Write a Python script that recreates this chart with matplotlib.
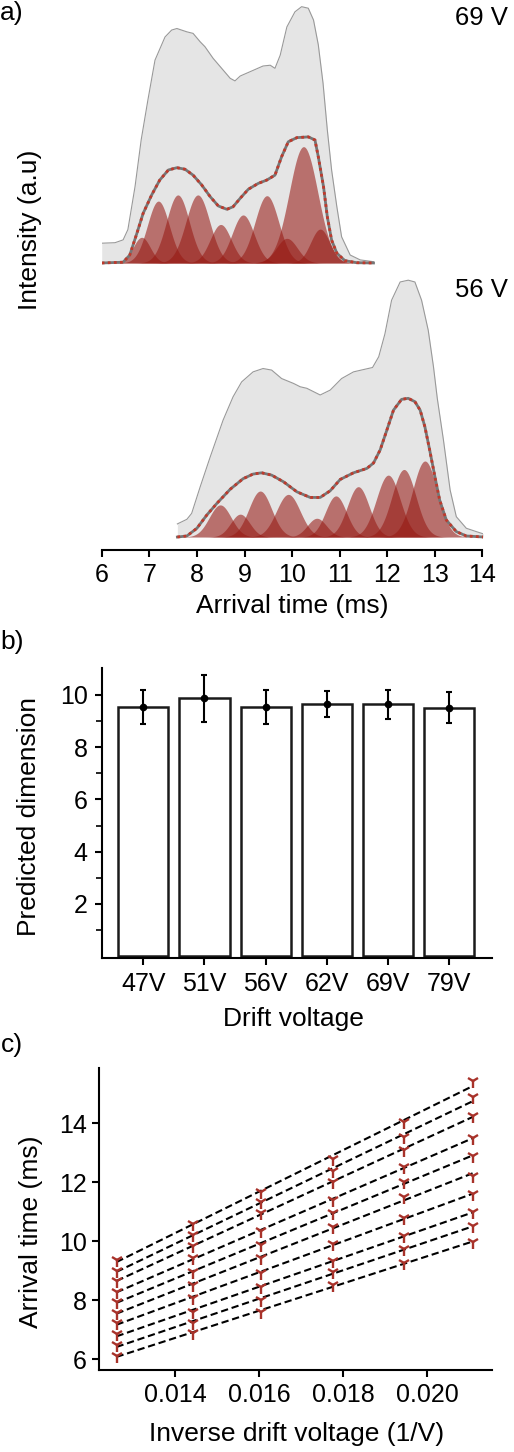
import numpy as np
import matplotlib.pyplot as plt

plt.rcParams['font.family'] = ['Liberation Sans', 'DejaVu Sans']

# ---- panel a: arrival time distributions (heights normalised to the tallest peak)
env69_t = [6.00, 6.28, 6.45, 6.55, 6.70, 6.83, 6.97, 7.12, 7.33, 7.47, 7.58, 7.79, 7.92,
           8.07, 8.17, 8.34, 8.52, 8.70, 8.80, 8.91, 9.12, 9.39, 9.54, 9.64, 9.75, 9.89,
           10.06, 10.20, 10.34, 10.45, 10.55, 10.65, 10.74, 10.83, 10.94, 11.04, 11.22,
           11.43, 11.71]
env69_h = [0.077, 0.079, 0.090, 0.130, 0.297, 0.480, 0.634, 0.790, 0.880, 0.907, 0.913,
           0.900, 0.894, 0.861, 0.842, 0.797, 0.758, 0.719, 0.709, 0.728, 0.745, 0.767,
           0.770, 0.758, 0.809, 0.919, 0.978, 0.998, 0.992, 0.946, 0.850, 0.700, 0.518,
           0.362, 0.219, 0.102, 0.031, 0.012, 0.005]
fit69_t = [6.00, 6.45, 6.59, 6.74, 6.87, 7.05, 7.22, 7.40, 7.58, 7.75, 7.92, 8.10, 8.28,
           8.45, 8.63, 8.76, 8.91, 9.08, 9.29, 9.47, 9.64, 9.78, 9.92, 10.10, 10.34,
           10.48, 10.55, 10.66, 10.74, 10.83, 10.94, 11.11, 11.36, 11.71]
fit69_h = [0.0, 0.003, 0.031, 0.116, 0.193, 0.265, 0.323, 0.362, 0.371, 0.365, 0.342,
           0.304, 0.258, 0.222, 0.209, 0.219, 0.252, 0.287, 0.310, 0.323, 0.342, 0.414,
           0.472, 0.488, 0.491, 0.479, 0.414, 0.297, 0.180, 0.089, 0.038, 0.009, 0.001,
           0.0]
peak69_t = [6.84, 7.19, 7.60, 8.02, 8.50, 8.97, 9.47, 9.89, 10.24, 10.59]
peak69_h = [0.100, 0.241, 0.265, 0.265, 0.150, 0.187, 0.262, 0.096, 0.453, 0.132]
peak69_w = [0.18, 0.23, 0.24, 0.25, 0.22, 0.23, 0.25, 0.22, 0.30, 0.20]

env56_t = [7.59, 7.79, 7.89, 8.07, 8.28, 8.55, 8.76, 8.94, 9.18, 9.39, 9.57, 9.78, 10.03,
           10.17, 10.31, 10.59, 10.80, 11.04, 11.29, 11.50, 11.69, 11.82, 11.95, 12.09,
           12.27, 12.44, 12.58, 12.72, 12.86, 12.97, 13.05, 13.18, 13.32, 13.45, 13.66,
           13.87, 14.02]
env56_h = [0.051, 0.069, 0.092, 0.196, 0.312, 0.455, 0.546, 0.604, 0.643, 0.656, 0.650,
           0.617, 0.598, 0.585, 0.579, 0.553, 0.572, 0.617, 0.643, 0.652, 0.660, 0.702,
           0.791, 0.922, 0.993, 1.000, 0.993, 0.922, 0.805, 0.663, 0.540, 0.377, 0.183,
           0.079, 0.034, 0.021, 0.012]
fit56_t = [7.59, 7.79, 8.00, 8.21, 8.42, 8.70, 8.97, 9.18, 9.36, 9.57, 9.82, 10.10, 10.38,
           10.59, 10.80, 11.01, 11.29, 11.57, 11.71, 11.85, 11.99, 12.13, 12.30, 12.44,
           12.58, 12.69, 12.79, 12.89, 13.00, 13.10, 13.24, 13.45, 13.66, 14.02]
fit56_h = [0.0, 0.004, 0.034, 0.086, 0.131, 0.186, 0.227, 0.245, 0.250, 0.241, 0.215,
           0.176, 0.154, 0.154, 0.180, 0.224, 0.250, 0.267, 0.288, 0.339, 0.416, 0.494,
           0.536, 0.540, 0.527, 0.494, 0.429, 0.339, 0.235, 0.144, 0.066, 0.021, 0.004,
           0.0]
peak56_t = [8.49, 8.91, 9.33, 9.92, 10.52, 10.92, 11.39, 12.02, 12.35, 12.79]
peak56_h = [0.125, 0.089, 0.179, 0.166, 0.073, 0.160, 0.196, 0.241, 0.263, 0.296]
peak56_w = [0.23, 0.20, 0.24, 0.25, 0.20, 0.22, 0.23, 0.25, 0.25, 0.26]

# ---- panel b
volt_labels = ['47V', '51V', '56V', '62V', '69V', '79V']
dim_mean = [9.54, 9.88, 9.54, 9.66, 9.64, 9.51]
dim_err = [0.65, 0.90, 0.65, 0.50, 0.55, 0.60]

# ---- panel c: arrival time of each component vs 1/V (79, 69, 62, 56, 51, 47 V)
inv_v = [0.01261, 0.01444, 0.01604, 0.01775, 0.01945, 0.02108]
t_79 = [9.37, 9.00, 8.65, 8.29, 7.95, 7.58, 7.22, 6.85, 6.48, 6.12]
t_69 = [10.59, 10.21, 9.85, 9.42, 8.97, 8.52, 8.07, 7.61, 7.24, 6.88]
t_62 = [11.68, 11.34, 10.95, 10.33, 9.87, 9.42, 8.92, 8.44, 8.01, 7.61]
t_56 = [12.78, 12.36, 11.99, 11.40, 10.95, 10.47, 9.91, 9.34, 8.94, 8.52]
t_51 = [14.02, 13.53, 13.09, 12.50, 12.02, 11.51, 10.78, 10.16, 9.73, 9.25]
t_47 = [15.41, 14.87, 14.25, 13.51, 12.87, 12.21, 11.59, 11.00, 10.50, 9.97]

W, H = 514, 1452
fig = plt.figure(figsize=(W / 100, H / 100), dpi=100)


def box(l, t, r, b):
    return [l / W, 1 - b / H, (r - l) / W, (b - t) / H]


def label(x, y, s, **kw):
    fig.text(x / W, 1 - y / H, s, ha='center', va='center', **kw)


# a)
ax = fig.add_axes(box(101.7, 0, 482.5, 550))
ax.set_xlim(6, 14)
ax.set_ylim(-0.0506, 2.091)
traces = [(env69_t, env69_h, fit69_t, fit69_h, peak69_t, peak69_h, peak69_w, 1.067),
          (env56_t, env56_h, fit56_t, fit56_h, peak56_t, peak56_h, peak56_w, 0.0)]
for et, eh, ft, fh, pt, ph, pw, off in traces:
    et = np.array(et)
    ax.fill_between(et, off, off + np.array(eh), color='#e5e5e5', lw=0, zorder=1)
    ax.plot(et, off + np.array(eh), color='#999999', lw=0.8, zorder=2)
    x = np.linspace(et[0], et[-1], 500)
    for c, h, w in zip(pt, ph, pw):
        g = h * np.exp(-0.5 * ((x - c) / w) ** 2)
        ax.fill_between(x, off, off + g, color='#961812', alpha=0.57, lw=0, zorder=3)
    ax.plot(ft, off + np.array(fh), color='#767676', lw=2.0, zorder=4)
    ax.plot(ft, off + np.array(fh), color='#c0392b', lw=2.0, ls=(0, (1, 1.2)), zorder=5)
for s in ['left', 'right', 'top']:
    ax.spines[s].set_visible(False)
ax.spines['bottom'].set_linewidth(1.5)
ax.set_yticks([])
ax.set_xticks(range(6, 15))
ax.tick_params(axis='x', labelsize=18, length=5, width=1.5, pad=4)
label(481, 18, '69 V', fontsize=18.5)
label(481, 290, '56 V', fontsize=18.5)
label(30, 230, 'Intensity (a.u)', fontsize=19, rotation=90)
label(292, 606, 'Arrival time (ms)', fontsize=19)
label(12, 13, 'a)', fontsize=19)

# b)
ax2 = fig.add_axes(box(101.7, 668.3, 492, 958.3))
xpos = np.arange(len(volt_labels))
ax2.bar(xpos, dim_mean, width=0.82, color='white', edgecolor='#1a1a1a', lw=1.8)
ax2.errorbar(xpos, dim_mean, yerr=dim_err, fmt='o', color='black', ms=4.5,
             capsize=2.5, elinewidth=1.5, capthick=1.5)
ax2.set_xlim(-0.68, 5.70)
ax2.set_ylim(-0.08, 11.02)
ax2.set_xticks(xpos)
ax2.set_xticklabels(volt_labels)
ax2.set_yticks([2, 4, 6, 8, 10])
ax2.set_yticks([1, 3, 5, 7, 9], minor=True)
for s in ['right', 'top']:
    ax2.spines[s].set_visible(False)
for s in ['left', 'bottom']:
    ax2.spines[s].set_linewidth(1.5)
ax2.tick_params(labelsize=18, length=5, width=1.5, pad=5)
ax2.tick_params(which='minor', length=4, width=1.2)
label(29, 816, 'Predicted dimension', fontsize=19, rotation=90)
label(293, 1019, 'Drift voltage', fontsize=19)
label(12, 642, 'b)', fontsize=19)

# c)
ax3 = fig.add_axes(box(99.3, 1068.3, 491.7, 1370))
times = np.array([t_79, t_69, t_62, t_56, t_51, t_47])
for k in range(times.shape[1]):
    y = times[:, k]
    coef = np.polyfit(inv_v, y, 1)
    ax3.plot(inv_v, np.polyval(coef, inv_v), color='black', lw=1.5, ls=(0, (3.5, 1.8)), zorder=2)
    ax3.plot(inv_v, y, ls='none', marker='1', color='#a8322a', ms=9.5, mew=1.7, zorder=3)
ax3.set_xlim(0.0122, 0.021532)
ax3.set_ylim(5.637, 15.855)
ax3.set_xticks([0.014, 0.016, 0.018, 0.020])
ax3.set_xticklabels(['0.014', '0.016', '0.018', '0.020'])
ax3.set_yticks([6, 8, 10, 12, 14])
for s in ['right', 'top']:
    ax3.spines[s].set_visible(False)
for s in ['left', 'bottom']:
    ax3.spines[s].set_linewidth(1.5)
ax3.tick_params(labelsize=18, length=5, width=1.5, pad=4)
label(31, 1232, 'Arrival time (ms)', fontsize=19, rotation=90)
label(297, 1434, 'Inverse drift voltage (1/V)', fontsize=19)
label(12, 1045, 'c)', fontsize=19)

fig.savefig('out.png', dpi=100)
